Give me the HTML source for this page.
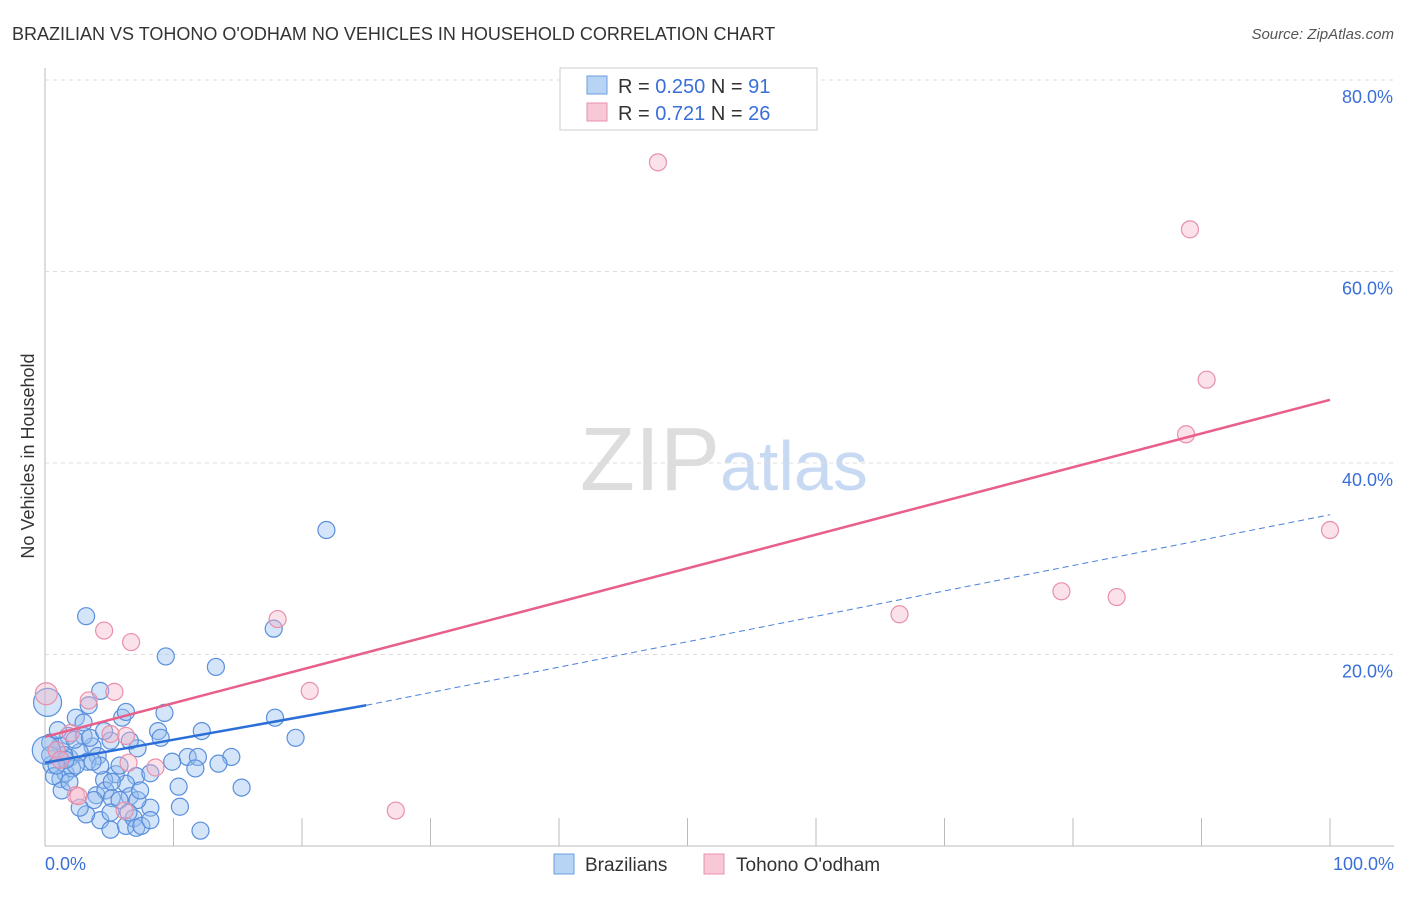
<!DOCTYPE html>
<html><head><meta charset="utf-8"><style>
body{margin:0;background:#fff;font-family:"Liberation Sans",sans-serif}
svg text{font-family:"Liberation Sans",sans-serif}
</style></head><body>
<svg width="1406" height="892" id="c">
<text x="12" y="40" font-size="18" fill="#333">BRAZILIAN VS TOHONO O'ODHAM NO VEHICLES IN HOUSEHOLD CORRELATION CHART</text>
<text x="1394" y="39" font-size="15" fill="#555" font-style="italic" text-anchor="end">Source: ZipAtlas.com</text>
<text x="34" y="456" font-size="18" fill="#333" transform="rotate(-90 34 456)" text-anchor="middle">No Vehicles in Household</text>
<text x="720" y="490" font-size="90" fill="#ddd" text-anchor="end" font-family="Liberation Serif">ZIP</text>
<text x="720" y="490" font-size="70" fill="#c8daf3">atlas</text>
<g id="grid"></g><g id="pts"></g><g id="lines"></g>
<g>
<rect x="560" y="68" width="257" height="62" fill="#fff" stroke="#ccc"/>
<rect x="587" y="76" width="20" height="18" fill="#b8d4f5" stroke="#6a9de0"/>
<rect x="587" y="103" width="20" height="18" fill="#f9c8d6" stroke="#e890aa"/>
<text x="618" y="93" font-size="20" fill="#333">R = <tspan fill="#3a6fd8">0.250</tspan>    N =  <tspan fill="#3a6fd8">91</tspan></text>
<text x="618" y="120" font-size="20" fill="#333">R =  <tspan fill="#3a6fd8">0.721</tspan>    N = <tspan fill="#3a6fd8">26</tspan></text>
</g>
<g>
<rect x="554" y="854" width="20" height="20" fill="#b8d4f5" stroke="#6a9de0"/>
<text x="585" y="871" font-size="19" fill="#333">Brazilians</text>
<rect x="704" y="854" width="20" height="20" fill="#f9c8d6" stroke="#e890aa"/>
<text x="736" y="871" font-size="19" fill="#333">Tohono O'odham</text>
</g>
<text x="45" y="870" font-size="18" fill="#3a6fd8">0.0%</text>
<text x="1394" y="870" font-size="18" fill="#3a6fd8" text-anchor="end">100.0%</text>
</svg>
<script>
const yTicks=[20,40,60,80];
const blueX=[3.2,9.4,13.3,17.8,21.9,4.3,3.4,2.4,6.0,6.3,9.3,12.2,17.9,19.5,8.8,9.0,7.2,6.6,3.7,3.0,1.8,1.2,0.4,0.9,1.2,0.5,1.9,2.7,4.1,5.1,0.2,11.1,11.9,9.9,11.7,14.5,13.5,10.4,10.5,15.3,7.1,6.3,5.5,4.6,4.0,4.7,5.2,6.6,8.2,7.2,4.3,3.2,5.1,6.3,6.9,7.1,7.5,12.1,1.2,1.6,0.7,2.1,1.5,3.3,2.4,4.3,3.7,0.4,0.1,1.0,2.3,8.2,5.8,3.5,3.0,4.6,1.6,0.9,5.8,7.4,5.2,3.8,6.5,5.1,8.2,2.7,1.3,1.9];
const blueY=[24.0,19.8,18.7,22.7,33.0,16.2,14.7,13.4,13.4,14.0,13.9,12.0,13.4,11.3,12.0,11.3,10.2,11.0,10.4,11.5,11.5,10.5,10.8,10.0,9.0,8.5,9.2,9.8,9.4,11.0,15.0,9.3,9.3,8.8,8.1,9.3,8.6,6.2,4.1,6.1,7.3,6.5,7.5,6.9,5.3,5.8,5.0,5.2,4.0,4.8,2.7,3.3,1.7,2.1,2.9,1.9,2.1,1.6,7.0,7.6,7.3,8.1,9.5,8.8,8.4,8.4,8.8,9.5,10.0,12.1,11.1,7.6,8.4,11.3,12.9,12.0,9.0,8.4,4.8,5.8,6.7,4.8,3.5,3.5,2.7,4.0,5.8,6.7];
const pinkX=[47.7,89.1,90.4,88.8,100,79.1,83.4,66.5,18.1,4.6,6.7,20.6,0.1,5.4,3.4,2.0,6.3,5.1,8.6,6.5,2.4,2.6,6.2,27.3,0.9,1.2];
const pinkY=[71.4,64.4,48.7,43.0,33.0,26.6,26.0,24.2,23.7,22.5,21.3,16.2,15.9,16.1,15.2,11.8,11.5,11.7,8.2,8.7,5.3,5.2,3.7,3.7,10.0,9.0];
const blueLine=[[0,8.7],[25,14.7],[100,34.6]];
const pinkLine=[[0,11.4],[100,46.6]];
const X=v=>45+v*12.85, Y=v=>846-v*9.575;
const NS="http://www.w3.org/2000/svg";
const mk=(p,t,a)=>{const e=document.createElementNS(NS,t);for(const k in a)e.setAttribute(k,a[k]);p.appendChild(e);return e;};
const g=document.getElementById('grid');
mk(g,'line',{x1:45,y1:68,x2:45,y2:846,stroke:'#bbb'});
mk(g,'line',{x1:45,y1:846,x2:1394,y2:846,stroke:'#bbb'});
for(let i=1;i<=10;i++){mk(g,'line',{x1:45+i*128.5,y1:818,x2:45+i*128.5,y2:846,stroke:'#bbb'});}
yTicks.forEach(t=>{
const l=mk(g,'line',{x1:45,y1:Y(t),x2:1394,y2:Y(t),stroke:'#ddd','stroke-dasharray':'4,4'});


const tx=mk(g,'text',{x:1393,y:Y(t)+23,'font-size':18,fill:'#3a6fd8','text-anchor':'end'});
tx.textContent=t.toFixed(1)+'%';


});
const p=document.getElementById('pts');
blueX.forEach((x,i)=>{const c=mk(p,'circle',{cx:X(x),cy:Y(blueY[i]),r:(x<0.3?14:8.5),fill:'rgba(150,190,240,0.4)',stroke:'#5a8fdc','stroke-width':1.2});

});
pinkX.forEach((x,i)=>{const c=mk(p,'circle',{cx:X(x),cy:Y(pinkY[i]),r:(x<0.3?11:8.5),fill:'rgba(245,180,200,0.4)',stroke:'#e890aa','stroke-width':1.2});

});
const L=document.getElementById('lines');
const pl=mk(L,'line',{x1:X(pinkLine[0][0]),y1:Y(pinkLine[0][1]),x2:X(pinkLine[1][0]),y2:Y(pinkLine[1][1]),stroke:'#e8608a','stroke-width':2.5});


const bl=mk(L,'line',{x1:X(blueLine[0][0]),y1:Y(blueLine[0][1]),x2:X(blueLine[1][0]),y2:Y(blueLine[1][1]),stroke:'#2a6fd8','stroke-width':2.5});


const bd=mk(L,'line',{x1:X(blueLine[1][0]),y1:Y(blueLine[1][1]),x2:X(blueLine[2][0]),y2:Y(blueLine[2][1]),stroke:'#4a80d8','stroke-width':1,'stroke-dasharray':'6,4'});


</script>
</body></html>
